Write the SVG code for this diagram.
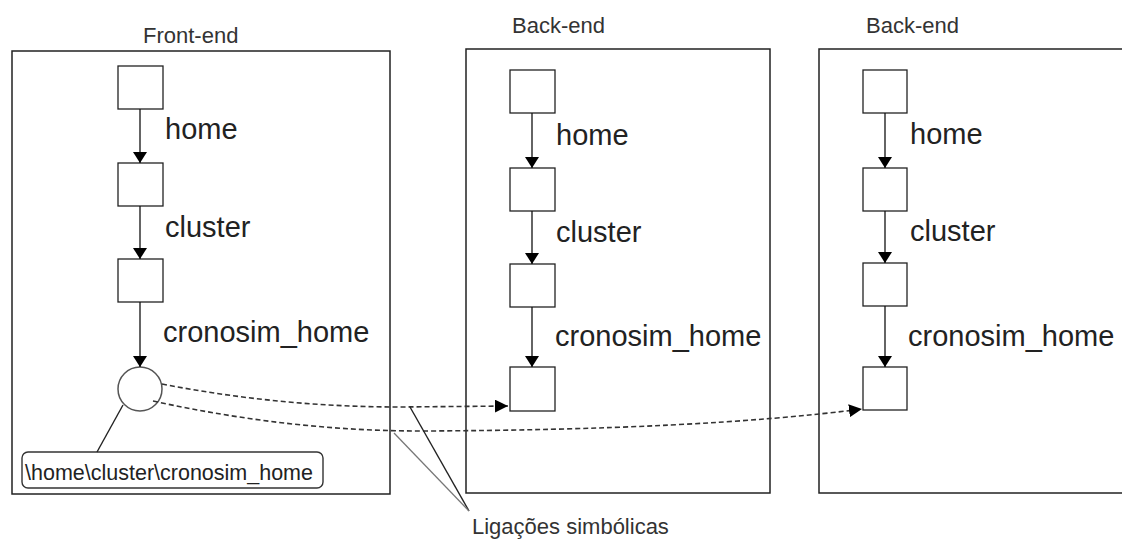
<svg xmlns="http://www.w3.org/2000/svg" width="1122" height="539" viewBox="0 0 1122 539">
  <defs>
    <style>
      .panel { fill: #fff; stroke: #222; stroke-width: 1.5; }
      .node { fill: #fff; stroke: #222; stroke-width: 1.3; }
      .title { font-family: "Liberation Sans", Arial, sans-serif; font-size: 22px; fill: #333; }
      .lbl { font-family: "Liberation Sans", Arial, sans-serif; font-size: 29px; fill: #222; }
      .small { font-family: "Liberation Sans", Arial, sans-serif; font-size: 21.5px; fill: #222; }
      .edge { fill: none; stroke: #111; stroke-width: 1.3; }
      .link { fill: none; stroke: #333; stroke-width: 1.6; stroke-dasharray: 5 3; }
      .callout { fill: none; stroke: #222; stroke-width: 1.4; }
    </style>
    <marker id="arrow" viewBox="0 0 11 14" refX="11" refY="7" markerWidth="11" markerHeight="14" markerUnits="userSpaceOnUse" orient="auto">
      <path d="M0,0 L11,7 L0,14 z" fill="#000"/>
    </marker>
    <marker id="arrowLink" viewBox="0 0 13 13" refX="13" refY="6.5" markerWidth="13" markerHeight="13" markerUnits="userSpaceOnUse" orient="auto">
      <path d="M0,0 L13,6.5 L0,13 z" fill="#000"/>
    </marker>
  </defs>

  <!-- Front-end panel -->
  <g id="frontend">
    <rect class="panel" x="12" y="51" width="378" height="443"/>
    <text class="title" x="143" y="43">Front-end</text>
  </g>
  <g id="fe-home"><rect class="node" x="118" y="66" width="45" height="43"/></g>
  <g id="fe-cluster"><rect class="node" x="118" y="163" width="45" height="43"/></g>
  <g id="fe-cronosim"><rect class="node" x="118" y="259" width="45" height="43"/></g>
  <g id="fe-link"><circle cx="140" cy="389" r="22" fill="#fff" stroke="#555" stroke-width="1.5"/></g>
  <g id="fe-path">
    <rect x="22" y="452" width="301" height="36" rx="6" fill="#fff" stroke="#333" stroke-width="1.4"/>
    <text class="small" x="25" y="480">\home\cluster\cronosim_home</text>
  </g>
  <g id="fe-labels">
    <text class="lbl" x="165" y="139">home</text>
    <text class="lbl" x="165" y="237">cluster</text>
    <text class="lbl" x="163" y="342">cronosim_home</text>
  </g>

  <!-- Back-end panel 1 -->
  <g id="backend1">
    <rect class="panel" x="466" y="49" width="304" height="444"/>
    <text class="title" x="512" y="33">Back-end</text>
  </g>
  <g id="be1-home"><rect class="node" x="510" y="70" width="45" height="43"/></g>
  <g id="be1-cluster"><rect class="node" x="510" y="168" width="45" height="43"/></g>
  <g id="be1-cronosim"><rect class="node" x="510" y="264" width="45" height="43"/></g>
  <g id="be1-target"><rect class="node" x="510" y="367" width="45" height="44"/></g>
  <g id="be1-labels">
    <text class="lbl" x="556" y="145">home</text>
    <text class="lbl" x="556" y="242">cluster</text>
    <text class="lbl" x="555" y="346">cronosim_home</text>
  </g>

  <!-- Back-end panel 2 -->
  <g id="backend2">
    <rect class="panel" x="819" y="49" width="320" height="444"/>
    <text class="title" x="866" y="33">Back-end</text>
  </g>
  <g id="be2-home"><rect class="node" x="863" y="70" width="44" height="43"/></g>
  <g id="be2-cluster"><rect class="node" x="863" y="168" width="44" height="43"/></g>
  <g id="be2-cronosim"><rect class="node" x="863" y="263" width="44" height="43"/></g>
  <g id="be2-target"><rect class="node" x="863" y="367" width="44" height="43"/></g>
  <g id="be2-labels">
    <text class="lbl" x="910" y="144">home</text>
    <text class="lbl" x="910" y="241">cluster</text>
    <text class="lbl" x="908" y="346">cronosim_home</text>
  </g>

  <!-- Connectors -->
  <g id="connectors">
    <line class="edge" x1="140" y1="109" x2="140" y2="163" marker-end="url(#arrow)"/>
    <line class="edge" x1="140" y1="206" x2="140" y2="259" marker-end="url(#arrow)"/>
    <line class="edge" x1="140" y1="302" x2="140" y2="367" marker-end="url(#arrow)"/>
    <line class="edge" x1="532" y1="113" x2="532" y2="168" marker-end="url(#arrow)"/>
    <line class="edge" x1="532" y1="211" x2="532" y2="264" marker-end="url(#arrow)"/>
    <line class="edge" x1="532" y1="307" x2="532" y2="367" marker-end="url(#arrow)"/>
    <line class="edge" x1="885" y1="113" x2="885" y2="168" marker-end="url(#arrow)"/>
    <line class="edge" x1="885" y1="211" x2="885" y2="263" marker-end="url(#arrow)"/>
    <line class="edge" x1="885" y1="306" x2="885" y2="367" marker-end="url(#arrow)"/>
    <!-- symbolic links -->
    <path class="link" d="M162,384 Q280,407 400,407 L508,406" marker-end="url(#arrowLink)"/>
    <path class="link" d="M153,401 Q290,431 420,431 Q700,430 862,409" marker-end="url(#arrowLink)"/>
    <!-- circle to path box -->
    <line class="callout" x1="123" y1="405" x2="97" y2="452"/>
    <!-- caption pointers -->
    <line class="callout" x1="410" y1="407" x2="469" y2="511"/>
    <line x1="394" y1="433" x2="469" y2="511" stroke="#777" stroke-width="1.3"/>
  </g>

  <text class="title" x="472" y="534">Ligações simbólicas</text>
</svg>
